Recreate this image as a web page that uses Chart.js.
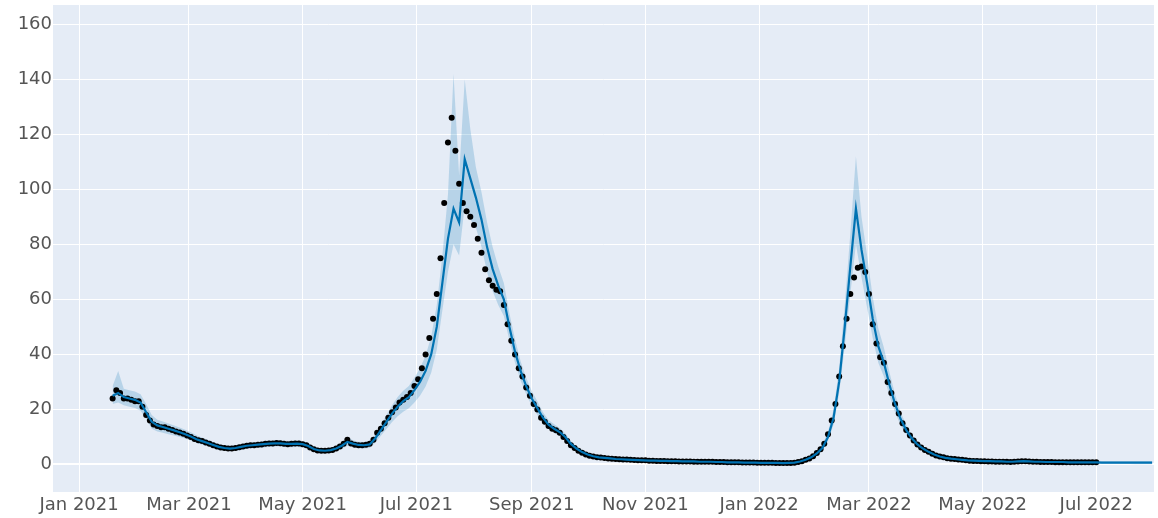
<!DOCTYPE html>
<html>
<head>
<meta charset="utf-8">
<script src="https://cdn.jsdelivr.net/npm/chart.js@4.4.1/dist/chart.umd.min.js"></script>
<style>
  html, body { margin: 0; padding: 0; background: #fff; }
  #wrap { width: 1158px; height: 518px; }
</style>
</head>
<body>
<div id="wrap"><canvas id="forecastChart" width="1158" height="518"></canvas></div>
<script>
// ASSE X: giorni dal 1 gen 2021
const monthTickDays = [0, 59, 120, 181, 243, 304, 365, 424, 485, 546];
const monthTickLabels = ['Jan 2021', 'Mar 2021', 'May 2021', 'Jul 2021', 'Sep 2021', 'Nov 2021', 'Jan 2022', 'Mar 2022', 'May 2022', 'Jul 2022'];

// OSSERVATI (un punto ogni 2 giorni, dal giorno 18)
const ACTUAL_START = 18;
const ACTUAL_STEP = 2;
const actualValues = [
  24, 27, 26, 24, 24, 23.5, 23, 23, 21, 18, 16, 14.5, 14, 13.5, 13.5, 13, 12.5, 12, 11.6, 11.2,
  10.5, 10, 9.3, 8.8, 8.5, 8, 7.5, 7, 6.5, 6.2, 6, 5.8, 5.8, 6, 6.3, 6.5, 6.8, 7, 7, 7.2, 7.3,
  7.5, 7.6, 7.6, 7.8, 7.7, 7.5, 7.4, 7.5, 7.6, 7.6, 7.4, 7, 6.2, 5.5, 5.1, 5, 5, 5.1, 5.3, 5.8,
  6.5, 7.5, 9, 7.6, 7.2, 7, 7, 7.2, 7.5, 9, 11.5, 13, 15, 17, 19, 20.7, 22.5, 23.5, 24.5, 26,
  28.5, 31, 35, 40, 46, 53, 62, 75, 95, 117,
  126, 114, 102, 95, 92, 90, 87, 82, 77, 71, 67, 65, 63.5, 63, 58, 51, 45, 40, 35, 32,
  28, 25, 22, 20, 17, 15.5, 14, 13, 12.4, 11.5, 10, 8.5, 7, 6, 5, 4.3, 3.6, 3.2, 2.9, 2.6,
  2.5, 2.4, 2.2, 2.1, 2, 1.9, 1.8, 1.8, 1.7, 1.6,
  1.5, 1.5, 1.5, 1.4, 1.4, 1.3, 1.3, 1.3, 1.2, 1.2, 1.2, 1.1, 1.1, 1.1, 1.1, 1, 1, 1, 1, 1,
  1, 0.9, 0.9, 0.9, 0.8, 0.8, 0.8, 0.8, 0.7, 0.7, 0.7, 0.7, 0.6, 0.6, 0.6, 0.6, 0.6, 0.5, 0.5, 0.5,
  0.5, 0.5, 0.6, 0.9, 1.2, 1.7, 2.2, 3, 4.2, 5.5,
  7.5, 11, 16, 22, 32, 43, 53, 62, 68, 71.5, 72, 70, 62, 51, 44, 39, 37, 30, 26, 22,
  18.5, 15, 12.5, 10.5, 8.7, 7.3, 6.2, 5.3, 4.6, 3.9, 3.3, 2.9, 2.6, 2.3, 2.1, 2, 1.8, 1.7, 1.5, 1.4,
  1.3, 1.3, 1.2, 1.2, 1.1, 1.1, 1, 1, 1, 1,
  0.9, 1, 1.1, 1.2, 1.2, 1.1, 1, 1, 0.9, 0.9, 0.9, 0.9, 0.8, 0.8, 0.8, 0.8, 0.8, 0.8, 0.8, 0.8,
  0.8, 0.8, 0.8, 0.8
];

// PREVISIONE (un punto ogni 3 giorni, dal giorno 18)
const FORECAST_START = 18;
const FORECAST_STEP = 3;
const yhat = [
  25, 26, 24.5, 24, 23.5, 22.5, 19, 15.5, 14.2, 13.6,
  13, 12.4, 11.7, 11, 10.2, 9.2, 8.5, 7.8, 7.1, 6.4,
  6, 5.8, 6, 6.4, 6.8, 7, 7.2, 7.4, 7.6, 7.7,
  7.7, 7.5, 7.5, 7.6, 7.4, 6.7, 5.6, 5.1, 5, 5.2,
  5.8, 6.8, 8.2, 7.6, 7.1, 7, 7.3, 9.5, 12.5, 15.5,
  18.5, 21, 23, 24.5, 27, 30, 34, 40, 50, 66,
  82, 93, 88, 111, 104, 97, 89, 79, 71, 65,
  60, 50, 41, 34, 28.5, 24, 20.5, 17, 14.5, 13,
  11.8, 10, 7.5, 5.8, 4.5, 3.6, 3, 2.6, 2.4, 2.2,
  2, 1.9, 1.8, 1.7, 1.6, 1.5, 1.4, 1.4, 1.3, 1.3,
  1.2, 1.2, 1.1, 1.1, 1.1, 1, 1, 1, 0.9, 0.9,
  0.8, 0.8, 0.8, 0.7, 0.7, 0.7, 0.6, 0.6, 0.6, 0.6,
  0.5, 0.6, 0.7, 1.1, 1.7, 2.6, 4, 6, 10, 17,
  30, 50, 72, 93, 78, 66, 53, 43, 37, 29,
  22, 16.5, 12.5, 9.5, 7.3, 5.8, 4.6, 3.6, 2.9, 2.4,
  2.1, 1.9, 1.7, 1.5, 1.4, 1.3, 1.2, 1.2, 1.1, 1.1,
  1, 1, 1.1, 1.2, 1.1, 1, 1, 0.9, 0.9, 0.9,
  0.9, 0.8, 0.8, 0.8, 0.8, 0.8, 0.8, 0.7, 0.7, 0.7,
  0.7, 0.7, 0.7, 0.7, 0.7, 0.7, 0.7
];
const yhatLower = [
  22, 22.5, 21.5, 21, 20.5, 19.5, 16.5, 13, 12, 11.5,
  11, 10.5, 10, 9.4, 8.7, 7.8, 7.2, 6.6, 6, 5.4,
  5, 4.8, 5, 5.3, 5.7, 5.9, 6, 6.2, 6.4, 6.5,
  6.5, 6.3, 6.3, 6.4, 6.2, 5.6, 4.6, 4.2, 4.1, 4.3,
  4.8, 5.6, 6.8, 6.3, 5.9, 5.8, 6, 7.9, 10.4, 12.9,
  15.4, 17.5, 19.2, 20.4, 22.5, 25, 28.3, 33.3, 41.7, 56,
  70, 80, 76, 94, 89, 86, 79, 70, 63, 58,
  54, 45, 37, 30.5, 25.5, 21.3, 18, 15, 12.8, 11.4,
  10.3, 8.7, 6.5, 5, 3.8, 3, 2.5, 2.1, 1.9, 1.7,
  1.5, 1.4, 1.3, 1.2, 1.1, 1, 0.9, 0.9, 0.8, 0.8,
  0.7, 0.7, 0.6, 0.6, 0.6, 0.5, 0.5, 0.5, 0.4, 0.4,
  0.3, 0.3, 0.3, 0.2, 0.2, 0.2, 0.1, 0.1, 0.1, 0.1,
  0, 0.1, 0.2, 0.5, 1.1, 1.9, 3.2, 5, 8.5, 14.5,
  26, 43, 62, 80, 68, 57, 46, 37, 32, 25,
  19, 14.2, 10.8, 8.2, 6.3, 5, 3.9, 3, 2.4, 1.9,
  1.6, 1.4, 1.2, 1, 0.9, 0.8, 0.7, 0.7, 0.6, 0.6,
  0.5, 0.5, 0.6, 0.7, 0.6, 0.5, 0.5, 0.4, 0.4, 0.4,
  0.4, 0.3, 0.3, 0.3, 0.3, 0.3, 0.3, 0.2, 0.2, 0.2,
  0.2, 0.2, 0.2, 0.1, 0.1, 0.1, 0.1
];
const yhatUpper = [
  28.5, 34, 27.5, 27, 26.5, 25.5, 22, 18, 16.3, 15.6,
  14.9, 14.2, 13.4, 12.6, 11.7, 10.6, 9.8, 9, 8.2, 7.4,
  7, 6.8, 7, 7.4, 7.9, 8.1, 8.3, 8.5, 8.7, 8.8,
  8.8, 8.6, 8.6, 8.7, 8.5, 7.8, 6.6, 6, 5.9, 6.1,
  6.8, 7.9, 10, 8.8, 8.3, 8.2, 8.6, 11, 14.5, 18,
  21.5, 24.5, 26.8, 28.5, 31.5, 35, 39.5, 46.5, 58, 76,
  98, 142, 105, 140, 122, 108, 99, 88, 79, 72,
  66, 55, 45.5, 37.5, 31.5, 26.7, 23, 19, 16.2, 14.6,
  13.3, 11.3, 8.5, 6.6, 5.2, 4.2, 3.5, 3.1, 2.9, 2.7,
  2.5, 2.4, 2.3, 2.2, 2.1, 2, 1.9, 1.9, 1.8, 1.8,
  1.7, 1.7, 1.6, 1.6, 1.6, 1.5, 1.5, 1.5, 1.4, 1.4,
  1.3, 1.3, 1.3, 1.2, 1.2, 1.2, 1.1, 1.1, 1.1, 1.1,
  1, 1.1, 1.2, 1.7, 2.4, 3.4, 5, 7.2, 11.8, 20,
  35, 58, 84, 112, 90, 76, 61, 49.5, 42.5, 33.5,
  25.5, 19, 14.4, 10.9, 8.4, 6.7, 5.3, 4.3, 3.5, 3,
  2.7, 2.5, 2.3, 2.1, 2, 1.9, 1.8, 1.8, 1.7, 1.7,
  1.6, 1.6, 1.7, 1.8, 1.7, 1.6, 1.6, 1.5, 1.5, 1.5,
  1.5, 1.4, 1.4, 1.4, 1.4, 1.4, 1.4, 1.3, 1.3, 1.3,
  1.3, 1.3, 1.3, 1.3, 1.3, 1.3, 1.3
];

// PUNTI {x, y}
const toPoints = (values, start, step) => values.map((v, i) => ({ x: start + i * step, y: v }));
const actualPoints = toPoints(actualValues, ACTUAL_START, ACTUAL_STEP);
const yhatPoints = toPoints(yhat, FORECAST_START, FORECAST_STEP);
const lowerPoints = toPoints(yhatLower, FORECAST_START, FORECAST_STEP);
const upperPoints = toPoints(yhatUpper, FORECAST_START, FORECAST_STEP);

// sfondo dell'area del grafico (stile plotly)
const plotBackground = {
  id: 'plotBackground',
  beforeDraw(chart) {
    const { ctx, chartArea: a } = chart;
    ctx.save();
    ctx.fillStyle = '#E5ECF6';
    ctx.fillRect(a.left, a.top, a.right - a.left, a.bottom - a.top);
    ctx.restore();
  }
};

const tickFont = { family: "'DejaVu Sans', Verdana, sans-serif", size: 18 };

new Chart(document.getElementById('forecastChart'), {
  type: 'line',
  data: {
    datasets: [
      {
        label: 'Predicted',
        data: yhatPoints,
        borderColor: '#0072B2',
        borderWidth: 2.2,
        pointRadius: 0,
        fill: false,
        tension: 0,
        order: 0
      },
      {
        label: 'Actual',
        data: actualPoints,
        showLine: false,
        pointRadius: 3,
        pointBorderWidth: 0,
        pointBackgroundColor: '#000',
        order: 1
      },
      {
        label: 'Upper',
        data: upperPoints,
        borderWidth: 0,
        pointRadius: 0,
        backgroundColor: 'rgba(0, 114, 178, 0.2)',
        fill: '+1',
        order: 2
      },
      {
        label: 'Lower',
        data: lowerPoints,
        borderWidth: 0,
        pointRadius: 0,
        fill: false,
        order: 3
      }
    ]
  },
  options: {
    responsive: false,
    animation: false,
    devicePixelRatio: 1,
    layout: { padding: { top: 5, right: 0, bottom: 0, left: 0 } },
    plugins: { legend: { display: false }, tooltip: { enabled: false } },
    scales: {
      x: {
        type: 'linear',
        min: -14,
        max: 577,
        afterBuildTicks: s => { s.ticks = monthTickDays.map(v => ({ value: v })); },
        afterFit: s => { s.height = 26; s.paddingLeft = 0; s.paddingRight = 0; },
        ticks: {
          autoSkip: false,
          maxRotation: 0,
          padding: 3,
          color: '#555',
          font: tickFont,
          callback: v => monthTickLabels[monthTickDays.indexOf(v)] ?? ''
        },
        grid: { color: '#ffffff', lineWidth: 1, drawTicks: false },
        border: { display: false }
      },
      y: {
        min: -10,
        max: 167,
        afterFit: s => { s.width = 53; s.paddingTop = 0; s.paddingBottom = 0; },
        ticks: {
          stepSize: 20,
          includeBounds: false,
          padding: 1,
          color: '#555',
          font: tickFont
        },
        grid: {
          color: '#ffffff',
          lineWidth: c => (c.tick && c.tick.value === 0 ? 2 : 1),
          drawTicks: false
        },
        border: { display: false }
      }
    }
  },
  plugins: [plotBackground]
});
</script>
</body>
</html>
